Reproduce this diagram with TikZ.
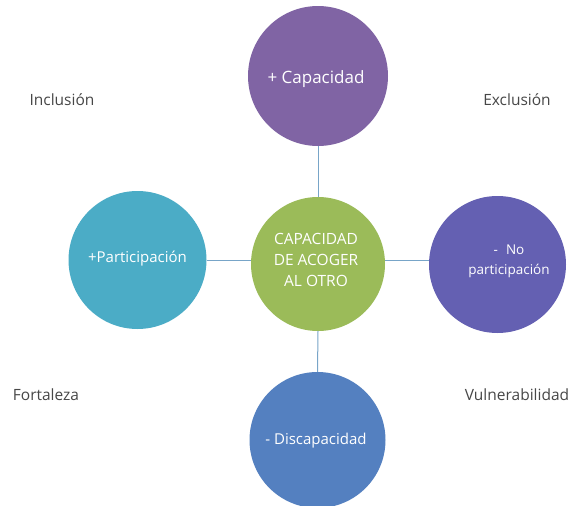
\documentclass[tikz,border=0pt]{standalone}
\usepackage{fontspec}
\setmainfont{Open Sans}
\begin{document}
\begin{tikzpicture}[x=1pt,y=-1pt,
  bub/.style={circle,minimum size=138pt,inner sep=0pt},
  btxt/.style={text=white,align=center,inner sep=0pt,font=\fontsize{15}{21}\selectfont},
  lab/.style={text=black!72,font=\fontsize{15.5}{18}\selectfont,inner sep=0pt},
  link/.style={draw=linkc,line width=1pt}]
\definecolor{linkc}{RGB}{120,165,200}
\definecolor{cpurple}{RGB}{128,100,164}
\definecolor{cgreen}{RGB}{155,187,89}
\definecolor{cteal}{RGB}{75,172,198}
\definecolor{cindigo}{RGB}{100,96,178}
\definecolor{cblue}{RGB}{84,128,192}
\useasboundingbox[fill=white] (0,0) rectangle (574,506);
\node[bub,fill=cgreen,minimum size=134pt] (c) at (318,264) {};
\node[bub,fill=cpurple,minimum size=140pt] (t) at (318,76) {};
\node[bub,fill=cteal] (l) at (137.5,260) {};
\node[bub,fill=cindigo,minimum size=137pt] (r) at (497.5,264.5) {};
\node[bub,fill=cblue,minimum size=136pt] (b) at (317.5,440) {};
\node[btxt,font=\fontsize{15.5}{21}\selectfont] (ct) at (316,260) {CAPACIDAD\\DE ACOGER\\AL OTRO};
\node[btxt,font=\fontsize{17}{20}\selectfont] (tt) at (316,79) {+ Capacidad};
\node[btxt] (lt) at (137.5,259) {+Participación};
\node[btxt,font=\fontsize{13.5}{20}\selectfont] (rt) at (509,261) {-\hspace{0.6em}No\\participación};
\node[btxt] (bt) at (316,441) {- Discapacidad};
\coordinate (cw) at (c.west |- 0,260);
\coordinate (ce) at (c.east |- 0,260);
\draw[link] (t.south) -- (c.north);
\draw[link] (c.south) -- (b.north);
\draw[link] (l.east |- cw) -- (cw);
\draw[link] (ce) -- (r.west |- ce);
\node[lab] (i) at (62,100) {Inclusión};
\node[lab] (e) at (517,100) {Exclusión};
\node[lab] (f) at (46,395) {Fortaleza};
\node[lab] (v) at (517,395) {Vulnerabilidad};
\end{tikzpicture}
\end{document}
